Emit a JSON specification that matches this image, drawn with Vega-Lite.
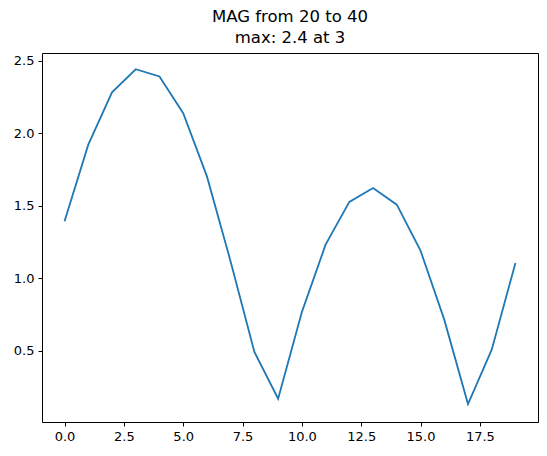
{
  "$schema": "https://vega.github.io/schema/vega-lite/v6.json",
  "width": 496,
  "height": 369,
  "autosize": {"type": "none"},
  "padding": {"left": 42, "top": 53, "right": 9, "bottom": 34},
  "background": "white",
  "title": {
    "text": ["MAG from 20 to 40", "max: 2.4 at 3"],
    "font": "DejaVu Sans",
    "fontSize": 16.5,
    "fontWeight": "normal",
    "color": "black",
    "anchor": "middle",
    "lineHeight": 21.6,
    "baseline": "alphabetic",
    "offset": -7
  },
  "data": {
    "values": [
      {"x": 0, "y": 1.394},
      {"x": 1, "y": 1.923},
      {"x": 2, "y": 2.284},
      {"x": 3, "y": 2.443},
      {"x": 4, "y": 2.393},
      {"x": 5, "y": 2.14},
      {"x": 6, "y": 1.704},
      {"x": 7, "y": 1.116},
      {"x": 8, "y": 0.493},
      {"x": 9, "y": 0.171},
      {"x": 10, "y": 0.768},
      {"x": 11, "y": 1.233},
      {"x": 12, "y": 1.528},
      {"x": 13, "y": 1.624},
      {"x": 14, "y": 1.509},
      {"x": 15, "y": 1.192},
      {"x": 16, "y": 0.716},
      {"x": 17, "y": 0.134},
      {"x": 18, "y": 0.509},
      {"x": 19, "y": 1.107}
    ]
  },
  "mark": {"type": "line", "color": "#1f77b4", "strokeWidth": 1.8, "clip": true},
  "encoding": {
    "x": {
      "field": "x",
      "type": "quantitative",
      "scale": {"domain": [-0.95, 19.95], "nice": false, "zero": false},
      "axis": {
        "values": [0, 2.5, 5, 7.5, 10, 12.5, 15, 17.5],
        "format": ".1f",
        "title": null,
        "grid": false,
        "domain": false,
        "tickColor": "black",
        "tickSize": 4,
        "tickWidth": 1,
        "labelColor": "black",
        "labelFont": "DejaVu Sans",
        "labelFontSize": 13,
        "labelPadding": 4,
        "labelFlush": false
      }
    },
    "y": {
      "field": "y",
      "type": "quantitative",
      "scale": {"domain": [0.01, 2.555], "nice": false, "zero": false},
      "axis": {
        "values": [0.5, 1.0, 1.5, 2.0, 2.5],
        "format": ".1f",
        "title": null,
        "grid": false,
        "domain": false,
        "tickColor": "black",
        "tickSize": 4,
        "tickWidth": 1,
        "labelColor": "black",
        "labelFont": "DejaVu Sans",
        "labelFontSize": 13,
        "labelPadding": 4,
        "labelFlush": false
      }
    }
  },
  "config": {
    "view": {"stroke": "black", "strokeWidth": 1}
  }
}
